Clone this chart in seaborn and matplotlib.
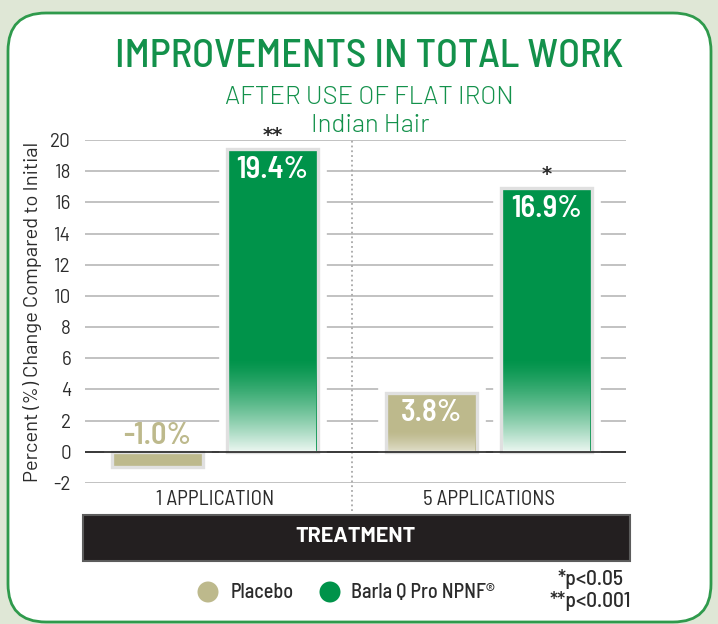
import numpy as np
import pandas as pd
import matplotlib
matplotlib.use('Agg')
import matplotlib.pyplot as plt
import matplotlib.patheffects as pe
import seaborn as sns
from matplotlib.patches import FancyBboxPatch, Ellipse, Rectangle
from matplotlib.transforms import IdentityTransform

# ---------------- data ----------------
treatments = ['1 APPLICATION', '5 APPLICATIONS']
products = ['Placebo', 'Barla Q Pro NPNF®']
placebo_vals = [-1.0, 3.8]
barla_vals = [19.4, 16.9]
barla_stars = ['**', '*']
y_ticks = list(range(-2, 21, 2))

GREEN = '#00934a'
TAN = '#bdb98c'
TITLE_GREEN = '#13914b'
TXT = '#2b2b2b'
COND = ['Barlow Semi Condensed', 'DejaVu Sans']
REG = ['Barlow', 'DejaVu Sans']

df = pd.DataFrame({
    'treatment': treatments * 2,
    'product': [products[0]] * 2 + [products[1]] * 2,
    'value': placebo_vals + barla_vals,
})

sns.set_theme(style='white')
plt.rcParams['font.family'] = COND
plt.rcParams['axes.unicode_minus'] = False

W, H = 718, 624
fig = plt.figure(figsize=(W / 100, H / 100), dpi=100, facecolor='#dfe7d6')


def fx(px):
    return px / W


def fy(py):
    return 1 - py / H


# white card with green rounded border
card = FancyBboxPatch((8, 2), 703, 609, boxstyle='round,pad=0,rounding_size=38',
                      transform=IdentityTransform(), facecolor='white',
                      edgecolor='#2f9a4c', linewidth=2, zorder=-5)
fig.add_artist(card)

ax = fig.add_axes([fx(85), fy(483), 541 / W, 343 / H])
ax.set_facecolor('none')

sns.barplot(data=df, x='treatment', y='value', hue='product', order=treatments,
            hue_order=products, palette=[TAN, GREEN], saturation=1, width=0.84,
            gap=0.21, edgecolor='#e0e0e0', linewidth=2.4, legend=False, ax=ax,
            zorder=2)

for bar in ax.patches:
    bar.set_path_effects([pe.Stroke(linewidth=12, foreground='white'), pe.Normal()])

# fade toward the base of the bars
grad = np.linspace(1, 0, 200).reshape(-1, 1)
for i, cont in enumerate(ax.containers):
    for bar in cont:
        x0, w, h = bar.get_x(), bar.get_width(), bar.get_height()
        if h <= 0:
            continue
        top, amax = (6.0, 0.93) if h > 10 else (1.3, 0.55)
        img = np.ones((200, 1, 4))
        img[..., 3] = (grad ** 1.3) * amax
        ax.imshow(img, extent=[x0 + 0.008, x0 + w - 0.008, 0, top], origin='lower',
                  aspect='auto', zorder=2.5, interpolation='bicubic')
        if h > 10:
            ax.add_patch(Rectangle((x0, 0), w, -0.5, facecolor='#e3f2e8',
                                   edgecolor='none', zorder=1.8))

# value labels and significance marks
vals = [placebo_vals, barla_vals]
for i, cont in enumerate(ax.containers):
    for j, bar in enumerate(cont):
        cx = bar.get_x() + bar.get_width() / 2
        v = vals[i][j]
        if v > 0:
            ax.text(cx, v - 0.4, f'{v:.1f}%', ha='center', va='top', color='white',
                    fontsize=22, fontweight=600, zorder=4)
        else:
            ax.text(cx, 0.1, f'{v:.1f}%', ha='center', va='bottom', color=TAN,
                    fontsize=22, fontweight=600, zorder=4)
        if i == 1:
            ax.text(cx, v + 0.25, barla_stars[j], ha='center', va='bottom', color=TXT,
                    fontsize=14, fontweight='bold', zorder=4, clip_on=False,
                    family='DejaVu Sans')

ax.axhline(0, color='#222222', lw=1.2, zorder=3)
ax.plot([0.5, 0.5], [-3.8, 20], ls=':', color='#a8a8a8', lw=1.3, clip_on=False, zorder=1)

ax.set_xlim(-0.474, 1.5)
ax.set_ylim(-2, 20)
ax.set_yticks(y_ticks)
ax.set_yticklabels([str(t) for t in y_ticks], family=REG)
ax.yaxis.grid(True, color='#b8b8b8', lw=1.2)
ax.set_axisbelow(True)
ax.set_xlabel('')
ax.set_ylabel('')
ax.tick_params(axis='both', length=0, colors=TXT)
ax.tick_params(axis='y', labelsize=13.5, pad=10)
ax.tick_params(axis='x', labelsize=15, pad=5)
for s in ax.spines.values():
    s.set_visible(False)

fig.text(fx(33), fy(312), 'Percent (%) Change Compared to Initial', rotation=90,
         ha='center', va='center', fontsize=14.5, color=TXT, family=REG)

# titles
fig.text(fx(369), fy(57), 'IMPROVEMENTS IN TOTAL WORK', ha='center', va='center',
         fontsize=29, color=TITLE_GREEN, fontweight=500)
fig.text(fx(369), fy(97), 'AFTER USE OF FLAT IRON', ha='center', va='center',
         fontsize=18.5, color=TITLE_GREEN, fontweight=300, family=REG)
fig.text(fx(370), fy(125), 'Indian Hair', ha='center', va='center',
         fontsize=18.5, color=TITLE_GREEN, fontweight=300, family=REG)

# treatment banner
fig.add_artist(Rectangle((83, H - 561), 547, 46, transform=IdentityTransform(),
                         facecolor='#231f20', edgecolor='#5c5c5c', lw=1.5, zorder=5))
fig.text(fx(356), fy(537), 'TREATMENT', ha='center', va='center', color='white',
         fontsize=15.5, fontweight='bold', zorder=6, family=REG)

# legend
for cx, col, label, tx in [(208, TAN, products[0], 231), (330, GREEN, products[1], 351)]:
    fig.add_artist(Ellipse((cx, H - 592), 21, 21, transform=IdentityTransform(),
                           facecolor=col, edgecolor='none'))
    fig.text(fx(tx), fy(592), label, ha='left', va='center', fontsize=14.5, color=TXT,
             fontweight=500)
fig.text(fx(590), fy(579), '*p<0.05', ha='center', va='center', fontsize=15.5, color=TXT,
         fontweight=500)
fig.text(fx(590), fy(601), '**p<0.001', ha='center', va='center', fontsize=15.5, color=TXT,
         fontweight=500)

fig.savefig('out.png', dpi=100, facecolor=fig.get_facecolor())
